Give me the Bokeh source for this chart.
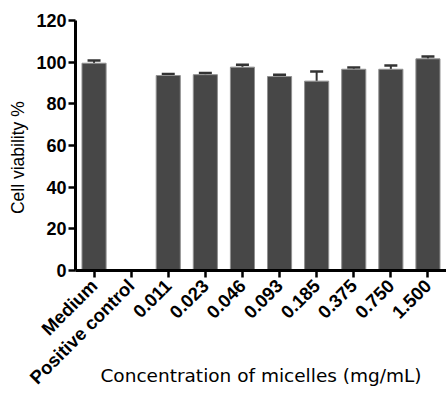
import math
from bokeh.plotting import figure
from bokeh.models import (Range1d, FactorRange, FixedTicker, ColumnDataSource, Whisker,
                          TeeHead)
from bokeh.embed import file_html
from bokeh.resources import INLINE

categories = ["Medium", "Positive control", "0.011", "0.023", "0.046",
              "0.093", "0.185", "0.375", "0.750", "1.500"]
viability = [99.5, 0.0, 93.6, 94.0, 97.6, 93.1, 90.9, 96.6, 96.6, 101.6]
error_up = [1.3, 0.0, 0.7, 0.8, 1.2, 0.9, 4.6, 0.8, 1.8, 1.1]
y_ticks = [0, 20, 40, 60, 80, 100, 120]

upper = [v + e for v, e in zip(viability, error_up)]
bar_cats = [c for c, v in zip(categories, viability) if v > 0]
bar_vals = [v for v in viability if v > 0]
err_cats = [c for c, e in zip(categories, error_up) if e > 0]
err_low = [v for v, e in zip(viability, error_up) if e > 0]
err_up = [u for u, e in zip(upper, error_up) if e > 0]

p = figure(width=446, height=393, x_range=FactorRange(*categories, range_padding=0),
           y_range=Range1d(0, 120), output_backend="svg", toolbar_location=None,
           min_border_left=75, min_border_right=0, min_border_top=20,
           min_border_bottom=123)
p.outline_line_color = None
p.grid.grid_line_color = None
p.background_fill_color = "white"
p.border_fill_color = "white"

bars = ColumnDataSource(dict(x=bar_cats, top=bar_vals))
p.vbar(x="x", top="top", width=0.65, source=bars, fill_color="#474747",
       line_color="#919191", line_width=1)

errs = ColumnDataSource(dict(base=err_cats, lower=err_low, upper=err_up))
w = Whisker(base="base", lower="lower", upper="upper", source=errs,
            line_color="#333333", line_width=2,
            upper_head=TeeHead(size=13, line_color="#333333", line_width=2.5),
            lower_head=None)
p.add_layout(w)

for ax in (p.xaxis[0], p.yaxis[0]):
    ax.axis_line_width = 3
    ax.axis_line_color = "black"
    ax.major_tick_line_width = 2.5
    ax.major_tick_line_color = "black"
    ax.major_tick_out = 7
    ax.major_tick_in = 0
    ax.minor_tick_line_color = None
    ax.major_label_text_font = "Liberation Sans"
    ax.major_label_text_font_style = "bold"
    ax.major_label_text_color = "black"

p.yaxis.ticker = FixedTicker(ticks=y_ticks)
p.yaxis.major_label_text_font_size = "18px"
p.yaxis.major_label_standoff = 2
# trailing non-breaking spaces nudge the centred title slightly downward
p.yaxis.axis_label = "Cell viability %" + "\u00a0" * 5
p.yaxis.axis_label_text_font = "Liberation Sans"
p.yaxis.axis_label_text_font_style = "normal"
p.yaxis.axis_label_text_font_size = "17.5px"
p.yaxis.axis_label_text_color = "black"
p.yaxis.axis_label_standoff = 5

p.xaxis.major_label_orientation = math.pi / 4
p.xaxis.major_label_text_font_size = "18.5px"
p.xaxis.major_label_standoff = 5
p.xaxis.axis_label = "Concentration of micelles (mg/mL)"
p.xaxis.axis_label_text_font = "DejaVu Sans"
p.xaxis.axis_label_text_font_style = "normal"
p.xaxis.axis_label_text_font_size = "18.5px"
p.xaxis.axis_label_text_color = "black"
p.xaxis.axis_label_standoff = -33

open("out.html", "w").write(file_html(p, INLINE))
